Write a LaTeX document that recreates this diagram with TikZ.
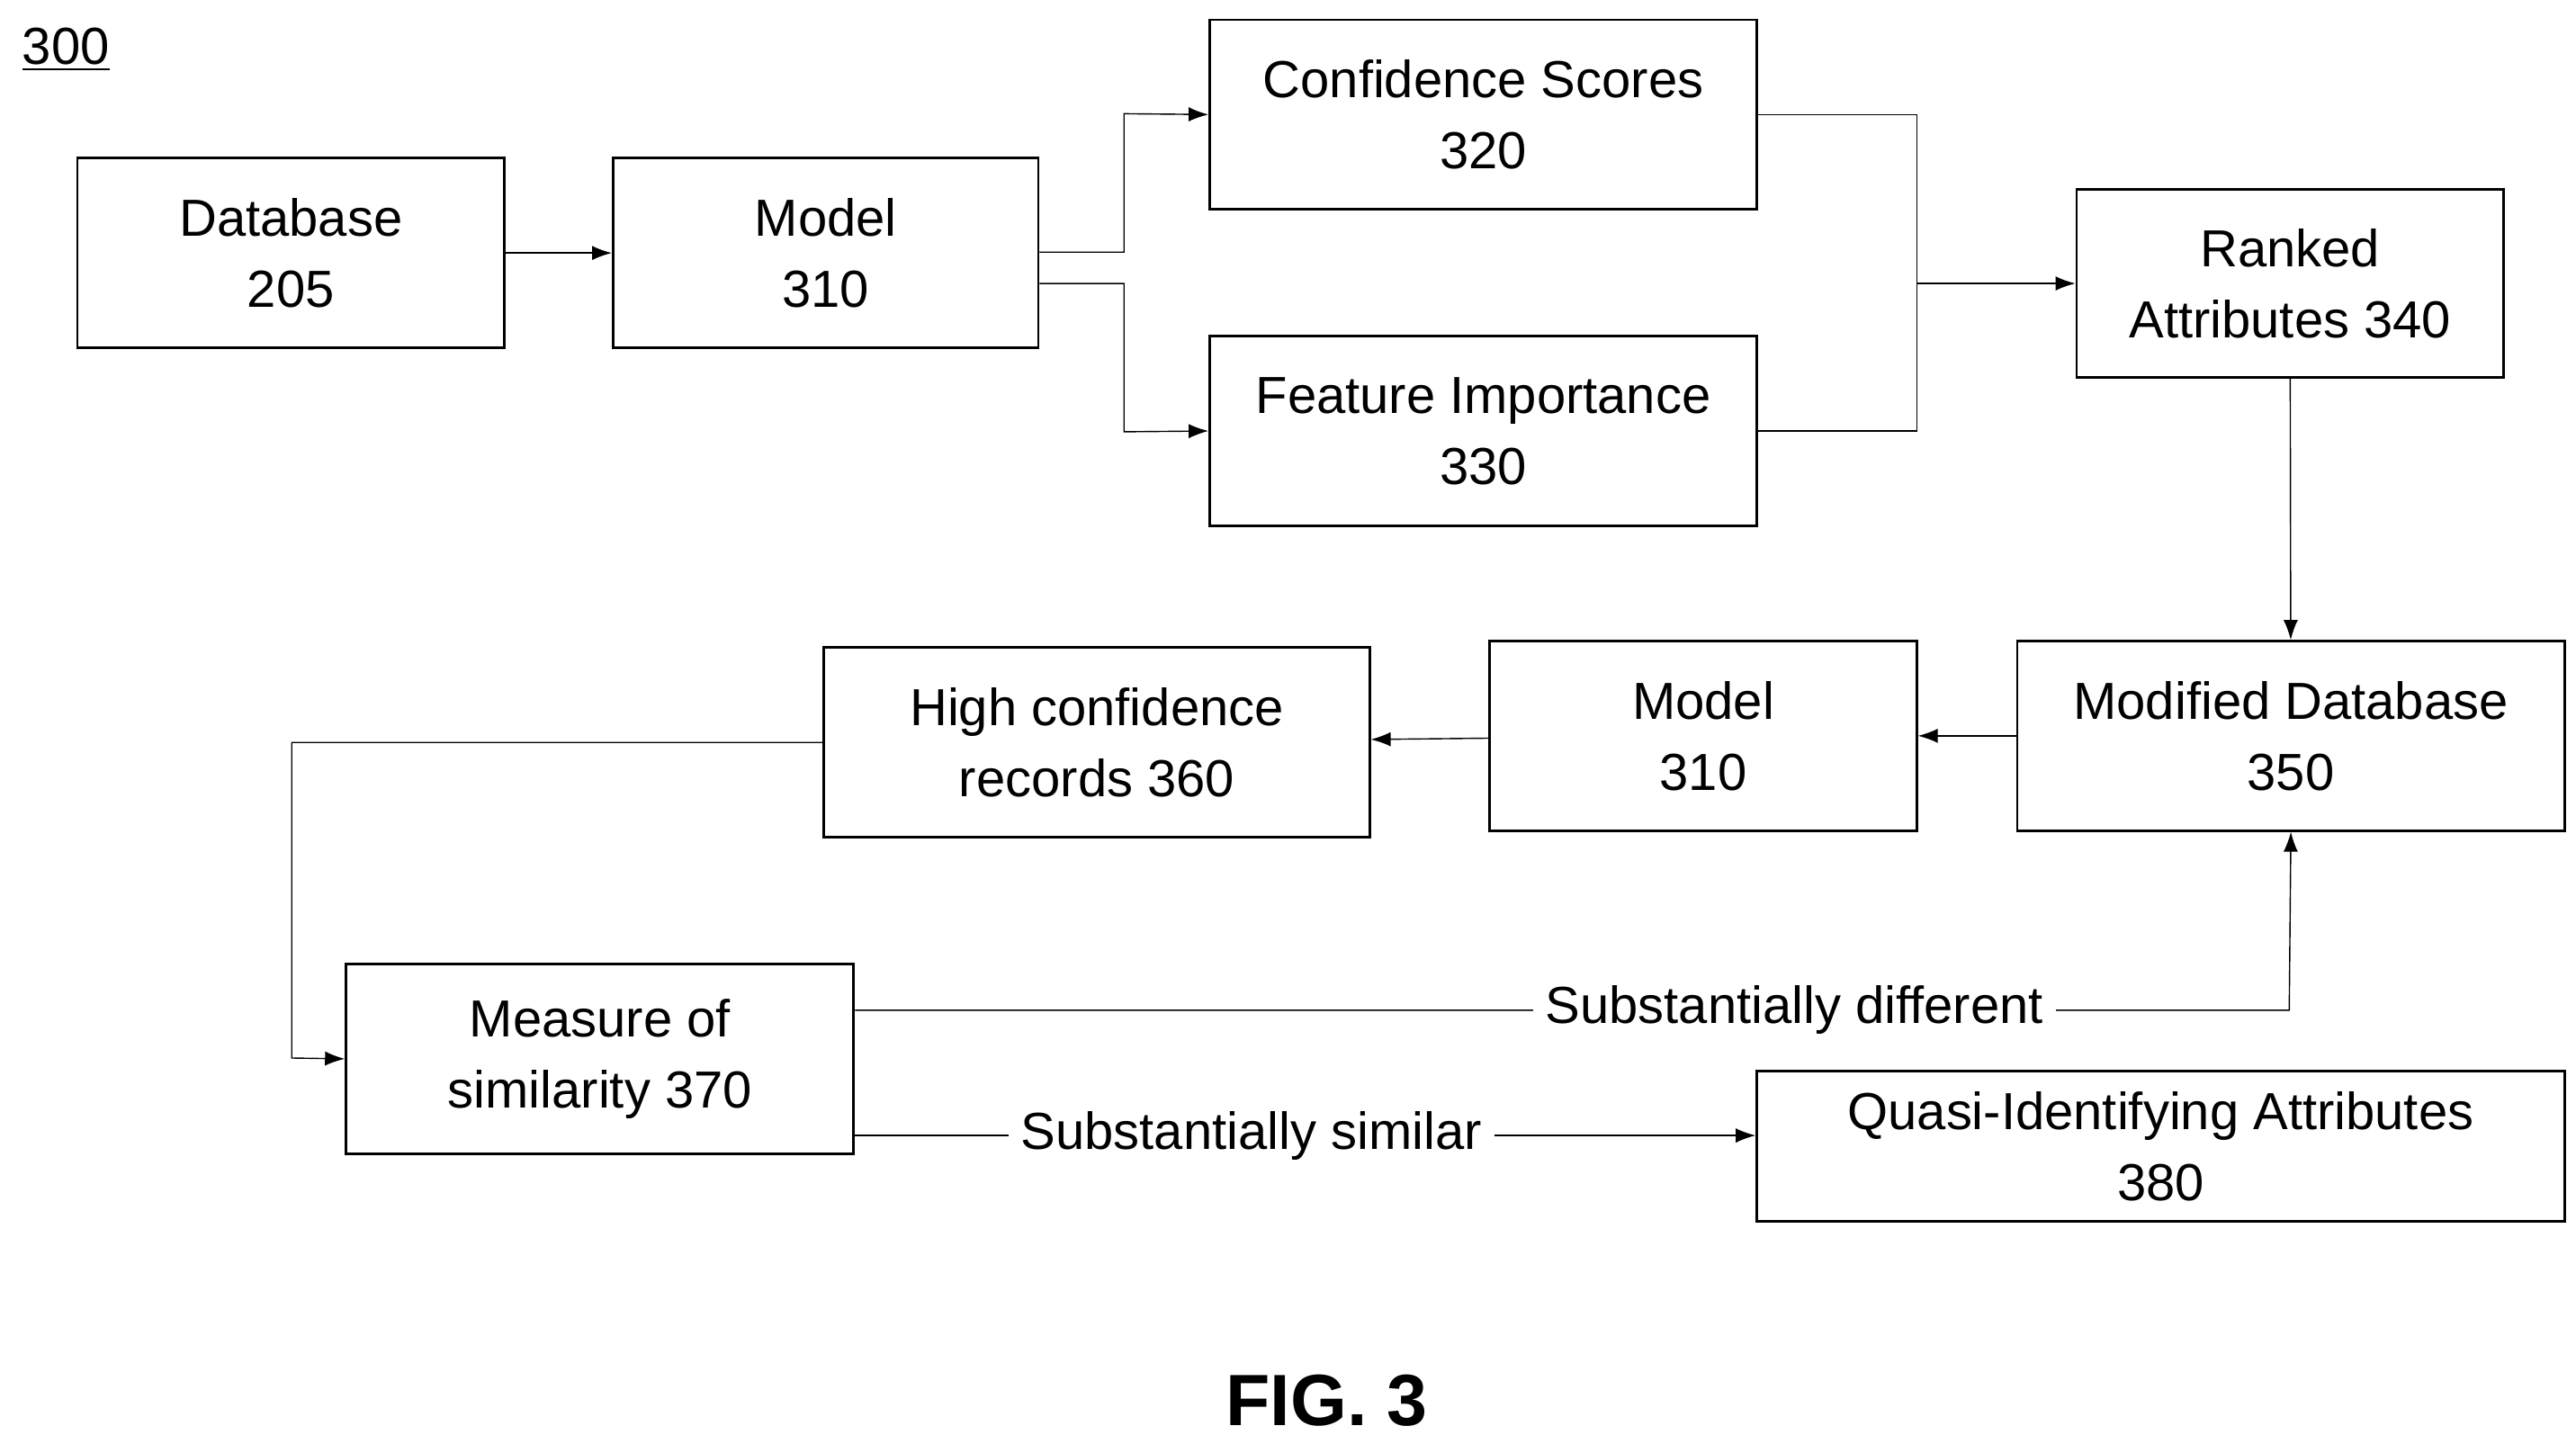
\documentclass[tikz,border=0pt]{standalone}
\usepackage{fontspec}
\setmainfont{Liberation Sans}
\usetikzlibrary{arrows.meta}
\tikzset{
	box/.style={draw, thick, align=center, font=\fontsize{16.5}{22.5}\selectfont},
	flow/.style={-{Latex[length=2.2mm,width=1.6mm]}},
	lbl/.style={fill=white, inner sep=4pt, font=\fontsize{16.5}{22.5}\selectfont}
}
\begin{document}
\begin{tikzpicture}[x=0.01832cm, y=-0.01832cm]
		\useasboundingbox (0,0) rectangle (1563,876);
		
		\node[box, minimum width=259*0.01832cm, minimum height=115*0.01832cm] (db) at (176.5,153.5) {Database\\205};
		\node[box, minimum width=258*0.01832cm, minimum height=115*0.01832cm] (mod) at (501,153.5) {Model\\310};
		\node[box, minimum width=332*0.01832cm, minimum height=115*0.01832cm] (conf) at (900,69.5) {Confidence Scores\\320};
		\node[box, minimum width=332*0.01832cm, minimum height=115*0.01832cm] (feat) at (900,261.5) {Feature Importance\\330};
		\node[box, minimum width=259*0.01832cm, minimum height=114*0.01832cm] (rank) at (1389.5,172) {Ranked\\Attributes 340};
		\node[box, minimum width=332*0.01832cm, minimum height=115*0.01832cm] (mdb) at (1390,446.5) {Modified Database\\350};
		\node[box, minimum width=259*0.01832cm, minimum height=115*0.01832cm] (modb) at (1033.5,446.5) {Model\\310};
		\node[box, minimum width=331*0.01832cm, minimum height=115*0.01832cm] (high) at (665.5,450.5) {High confidence\\records 360};
		\node[box, minimum width=308*0.01832cm, minimum height=115*0.01832cm] (meas) at (364,642.5) {Measure of\\similarity 370};
		\node[box, minimum width=490*0.01832cm, minimum height=91*0.01832cm] (quasi) at (1311,695.5) {Quasi-Identifying Attributes\\380};
		
		\node[font=\fontsize{16.5}{20}\selectfont, inner sep=1pt] (num) at (40,30) {\underline{300}};
		\node[font=\fontsize{23}{28}\selectfont\bfseries] (fig) at (805,850) {FIG. 3};
		
		\coordinate (j1) at (1163,172);
		\draw[flow] (db) -- (mod);
		\draw[flow] ([yshift=0.0cm]mod.east |- 0,153) -| (682,69) -- (conf.west);
		\draw[flow] (mod.east |- 0,172) -| (682,262) -- (feat.west);
		\draw (conf.east) -| (j1);
		\draw (feat.east) -| (j1);
		\draw[flow] (j1) -- (rank.west);
		\draw[flow] (rank) -- (mdb);
		\draw[flow] (mdb) -- (modb);
		\draw[flow] (modb) -- (high);
		\draw[flow] (high.west) -| (177,642) -- (meas.west);
		\draw[flow] (meas.east |- 0,613) -- node[lbl, pos=0.655] {Substantially different} (1389,613) -- (mdb.south);
		\draw[flow] (meas.east |- 0,689) -- node[lbl, pos=0.44] {Substantially similar} (quasi.west |- 0,689);
		\end{tikzpicture}
\end{document}
